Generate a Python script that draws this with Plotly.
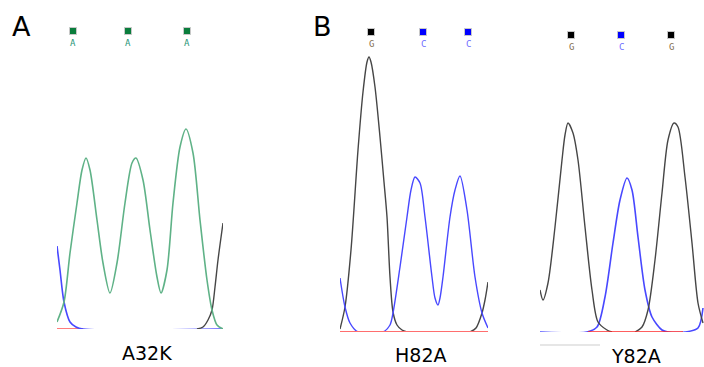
import plotly.graph_objects as go

W, H = 704, 367

# ---------------- Panel A (A32K) : scan index vs. signal intensity ----------------
a_green_scan = [0, 7, 13, 20, 25, 29, 33, 40, 46, 53, 60, 68, 75, 79, 86, 93, 100, 104, 110, 116, 123, 129, 136, 143, 150, 155, 160, 166]
a_green_int = [7, 27, 76, 126, 159, 171, 159, 109, 66, 36, 66, 126, 166, 171, 149, 99, 52, 36, 59, 126, 182, 200, 176, 109, 49, 19, 4, 0]
a_blue_scan = [0, 3, 7, 13, 19, 26, 165]
a_blue_int = [83, 59, 27, 7, 2, 0, 0]
a_red_scan = [0, 26]
a_red_int = [0, 0]
a_black_scan = [140, 146, 151, 155, 158, 161, 166]
a_black_int = [0, 2, 9, 19, 42, 69, 106]

# ---------------- Panel B (H82A) ----------------
b_black1_scan = [0, 5, 11, 18, 23, 27, 29, 31, 35, 40, 44, 47, 50, 53, 57, 62, 67]
b_black1_int = [3, 25, 82, 182, 240, 270, 275, 270, 245, 195, 150, 115, 55, 20, 7, 2, 0]
b_black2_scan = [130, 136, 142, 145, 148]
b_black2_int = [0, 4, 19, 32, 50]
b_blue_scan = [0, 5, 10, 18, 43, 50, 53, 60, 67, 71, 75, 80, 85, 92, 95, 98, 100, 103, 110, 115, 120, 127, 135, 142, 148]
b_blue_int = [54, 25, 9, 0, 0, 7, 19, 65, 115, 142, 155, 149, 115, 55, 34, 27, 34, 55, 115, 142, 156, 122, 55, 19, 4]
b_red_scan = [0, 148]
b_red_int = [0, 0]

# ---------------- Panel C (Y82A) ----------------
c_black1_scan = [0, 3, 8, 15, 22, 25, 28, 33, 38, 45, 52, 58, 67, 72]
c_black1_int = [42, 32, 49, 105, 172, 197, 209, 199, 172, 105, 42, 10, 2, 0]
c_black2_scan = [95, 102, 108, 115, 122, 128, 134, 138, 145, 152, 158, 163]
c_black2_int = [0, 5, 22, 72, 139, 192, 209, 205, 155, 89, 29, 9]
c_blue_scan = [0, 47, 57, 65, 73, 80, 87, 92, 98, 105, 112, 122, 128, 145, 158, 163]
c_blue_int = [0, 0, 5, 35, 89, 132, 154, 142, 95, 42, 15, 2, 0, 0, 4, 24]
c_red_scan = [48, 143]
c_red_int = [0, 0]

# base calls and labels
panel_letters = ["A", "B"]
a_calls = ["A", "A", "A"]
b_calls = ["G", "C", "C"]
c_calls = ["G", "C", "G"]
mutant_labels = ["A32K", "H82A", "Y82A"]

GREEN = "rgb(95,178,135)"
BLUE = "rgb(72,72,255)"
BLACK = "rgb(70,70,70)"
RED_B = "rgb(255,110,110)"
RED_C = "rgb(255,40,40)"

fig = go.Figure()

def add(xs, ys, color, axis, width=1.4):
    fig.add_trace(go.Scatter(x=xs, y=ys, mode="lines", line=dict(color=color, width=width, shape="spline", smoothing=0.8),
                             xaxis="x" + axis, yaxis="y" + axis, hoverinfo="skip", showlegend=False))

# Panel A
add(a_red_scan, a_red_int, RED_B, "", 1.8)
add(a_blue_scan, a_blue_int, BLUE, "", 1.6)
add(a_black_scan, a_black_int, BLACK, "")
add(a_green_scan, a_green_int, GREEN, "", 1.6)
# Panel B
add(b_black1_scan, b_black1_int, BLACK, "2")
add(b_black2_scan, b_black2_int, BLACK, "2")
add(b_blue_scan, b_blue_int, BLUE, "2")
add(b_red_scan, b_red_int, RED_B, "2", 2)
# Panel C
add(c_blue_scan, c_blue_int, BLUE, "3", 1.6)
add(c_black1_scan, c_black1_int, BLACK, "3")
add(c_black2_scan, c_black2_int, BLACK, "3")
add(c_red_scan, c_red_int, RED_C, "3", 1.6)

def px(x):
    return x / W

def py(y):
    return 1 - y / H

hidden = dict(visible=False, showgrid=False, zeroline=False, fixedrange=True)
fig.update_layout(
    width=W, height=H, margin=dict(l=0, r=0, t=0, b=0),
    paper_bgcolor="white", plot_bgcolor="rgba(0,0,0,0)",
    xaxis=dict(domain=[px(57), px(223)], range=[0, 166], anchor="y", **hidden),
    yaxis=dict(domain=[py(329), py(29)], range=[0, 300], anchor="x", **hidden),
    xaxis2=dict(domain=[px(340), px(488)], range=[0, 148], anchor="y2", **hidden),
    yaxis2=dict(domain=[py(332), py(32)], range=[0, 300], anchor="x2", **hidden),
    xaxis3=dict(domain=[px(540), px(704)], range=[0, 164], anchor="y3", **hidden),
    yaxis3=dict(domain=[py(332), py(32)], range=[0, 300], anchor="x3", **hidden),
)

# base-call squares
call_sets = [
    (a_calls, [73, 128, 187], 31, 43, ["rgb(10,125,60)"] * 3, ["rgb(40,150,120)"] * 3),
    (b_calls, [371, 423, 468], 32, 44, ["black", "rgb(0,0,255)", "rgb(0,0,255)"],
     ["rgb(130,110,80)", "rgb(110,110,255)", "rgb(110,110,255)"]),
    (c_calls, [571, 621, 671], 35, 47, ["black", "rgb(0,0,255)", "black"],
     ["rgb(130,110,80)", "rgb(110,110,255)", "rgb(130,110,80)"]),
]
for calls, xs, ysq, ylab, sqcols, txtcols in call_sets:
    for c, x, sc, tc in zip(calls, xs, sqcols, txtcols):
        fig.add_shape(type="rect", xref="paper", yref="paper",
                      x0=px(x - 3.5), x1=px(x + 3.5), y0=py(ysq + 3.5), y1=py(ysq - 3.5),
                      fillcolor=sc, line=dict(color="rgb(200,200,200)", width=1))
        fig.add_annotation(x=px(x), y=py(ylab), xref="paper", yref="paper", text=c, showarrow=False,
                           font=dict(family="DejaVu Sans Mono", size=9, color=tc), xanchor="center", yanchor="middle")

# panel letters
for letter, x in zip(panel_letters, [21, 322]):
    fig.add_annotation(x=px(x), y=py(27), xref="paper", yref="paper", text=letter, showarrow=False,
                       font=dict(family="DejaVu Sans", size=27, color="black"), xanchor="center", yanchor="middle")

# mutant labels
for lab, x, y in zip(mutant_labels, [147, 420, 636], [353, 355, 356]):
    fig.add_annotation(x=px(x), y=py(y), xref="paper", yref="paper", text=lab, showarrow=False,
                       font=dict(family="DejaVu Sans", size=19, color="black"), xanchor="center", yanchor="middle")

# faint scan line under panel C
fig.add_shape(type="line", xref="paper", yref="paper", x0=px(540), x1=px(600), y0=py(345), y1=py(345),
              line=dict(color="rgb(230,230,230)", width=2))

fig.write_html("out.html", config={"displayModeBar": False},
               post_script="document.body.style.margin='0px';document.body.style.overflow='hidden';")
